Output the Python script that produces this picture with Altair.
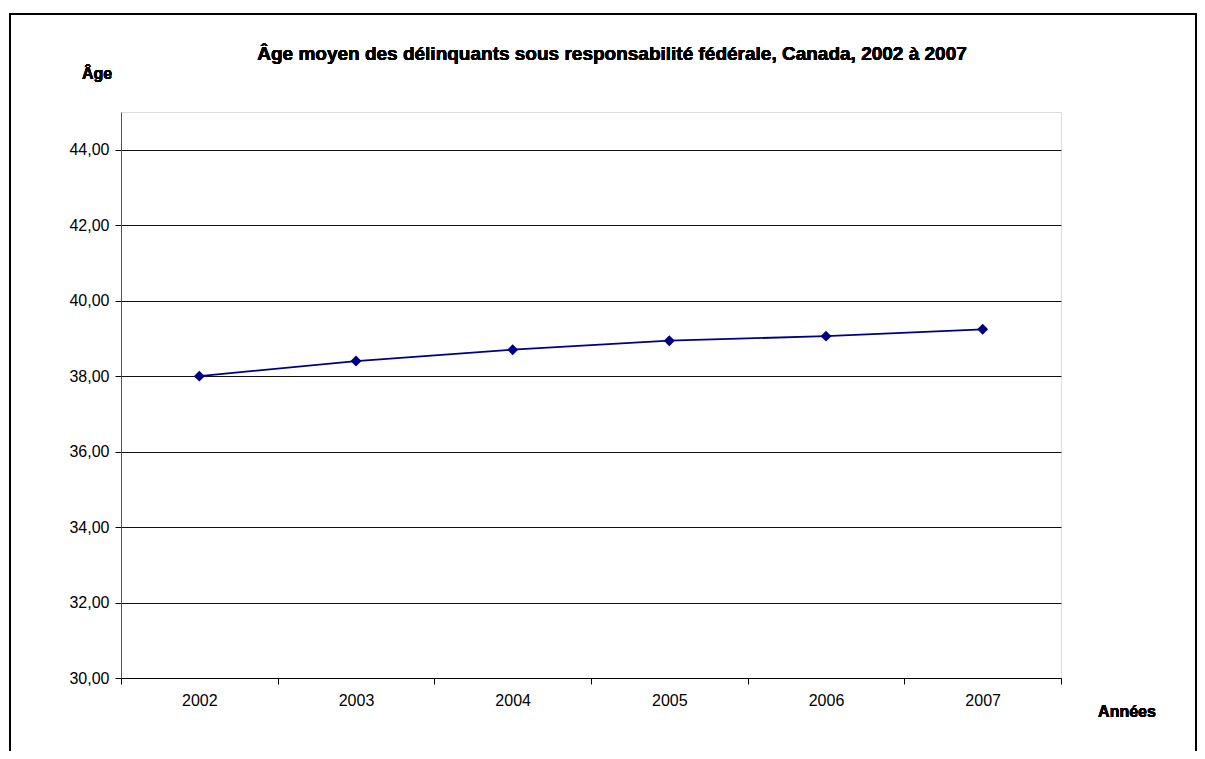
import altair as alt
import pandas as pd

years = ["2002", "2003", "2004", "2005", "2006", "2007"]
ages = [38.00, 38.40, 38.70, 38.94, 39.06, 39.24]
y_ticks = [30, 32, 34, 36, 38, 40, 42, 44]

df = pd.DataFrame({"annee": years, "age": ages})

W, H = 940, 566
FONT = "Liberation Sans"

x_enc = alt.X("annee:O", sort=years,
              scale=alt.Scale(paddingInner=0, paddingOuter=0),
              axis=alt.Axis(title=None, labelAngle=0, tickBand="extent",
                            labelFont=FONT, labelFontSize=16, labelColor="#000",
                            labelPadding=8, tickSize=6, tickColor="#000",
                            domainColor="#000", grid=False))
y_enc = alt.Y("age:Q", scale=alt.Scale(domain=[30, 45], nice=False, zero=False),
              axis=alt.Axis(title=None, values=y_ticks,
                            labelExpr="replace(format(datum.value, '.2f'), '.', ',')",
                            labelFont=FONT, labelFontSize=16, labelColor="#000",
                            labelPadding=6, tickSize=6, tickColor="#000",
                            domainColor="#555", grid=True, gridColor="#111",
                            gridWidth=1))

line = alt.Chart(df).mark_line(color="#000080", strokeWidth=1.8).encode(x=x_enc, y=y_enc)
pts = alt.Chart(df).mark_point(shape="diamond", filled=True, size=120,
                               color="#000080", opacity=1).encode(x="annee:O", y="age:Q")

frame = alt.Chart(df).mark_rect(fill=None, stroke="#000", strokeWidth=2).encode(
    x=alt.value(-111), x2=alt.value(1075), y=alt.value(-98), y2=alt.value(700))

title = alt.Chart(df).mark_text(text="Âge moyen des délinquants sous responsabilité fédérale, Canada, 2002 à 2007",
                                font=FONT, fontSize=19, fontWeight="bold", color="#000",
                                align="center", baseline="middle").encode(
    x=alt.value(491), y=alt.value(-58))
age_lbl = alt.Chart(df).mark_text(text="Âge", font=FONT, fontSize=16, fontWeight="bold",
                                  color="#000", align="center", baseline="middle").encode(
    x=alt.value(-24), y=alt.value(-38))
annees_lbl = alt.Chart(df).mark_text(text="Années", font=FONT, fontSize=16, fontWeight="bold",
                                     color="#000", align="center", baseline="middle").encode(
    x=alt.value(1006), y=alt.value(600))

chart = alt.layer(frame, line, pts, title, age_lbl, annees_lbl).properties(
    width=W, height=H,
    autosize=alt.AutoSizeParams(type="none"),
    padding={"left": 113, "top": 104, "right": 136, "bottom": 73},
).configure_view(stroke="#888", strokeWidth=1).configure(background="white")

chart.save("out.html", embed_options={"renderer": "svg", "actions": False})
